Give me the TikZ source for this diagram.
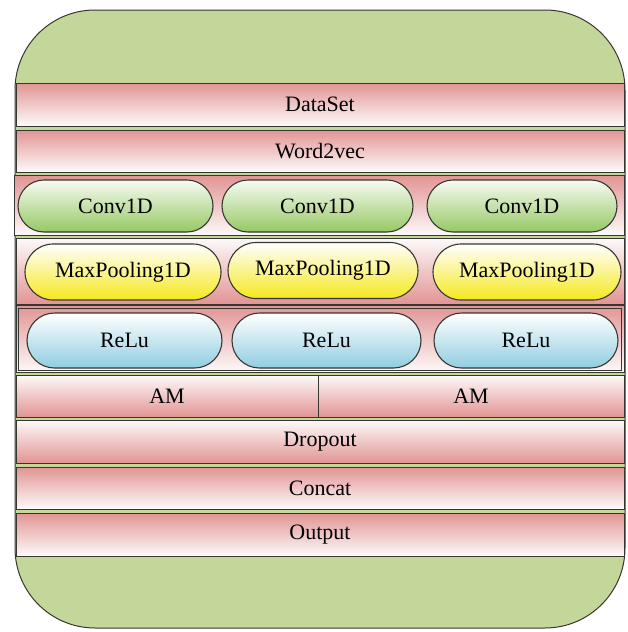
\documentclass[tikz,border=0pt]{standalone}
\usepackage{fontspec}
\setmainfont{Liberation Serif}
\usetikzlibrary{shapes.misc}
\definecolor{bggreen}{RGB}{196,215,155}
\definecolor{barpink}{RGB}{226,148,148}
\definecolor{barwhite}{RGB}{253,250,250}
\definecolor{pillgreen}{RGB}{150,200,100}
\definecolor{pillyellow}{RGB}{245,232,30}
\definecolor{pillblue}{RGB}{145,205,225}
\definecolor{edgec}{RGB}{55,55,50}
\tikzset{
  bar/.style={rectangle, draw=edgec, line width=1pt, inner sep=0pt, font=\fontsize{22}{24}\selectfont},
  pinktop/.style={bar, top color=barpink, middle color=barwhite!85!barpink, bottom color=barwhite},
  pinkbot/.style={bar, top color=barwhite, middle color=barwhite!85!barpink, bottom color=barpink},
  pill/.style={rounded rectangle, draw=edgec, line width=1.1pt, inner sep=0pt, font=\fontsize{22}{24}\selectfont},
  convpill/.style={pill, top color=white!92!pillgreen, middle color=white!65!pillgreen, bottom color=pillgreen},
  poolpill/.style={pill, top color=white, middle color=white!55!pillyellow, bottom color=pillyellow},
  relupill/.style={pill, top color=white, middle color=white!60!pillblue, bottom color=pillblue},
}
\begin{document}
\begin{tikzpicture}[x=1pt,y=-1pt]
\useasboundingbox (0,0) rectangle (628,632);
\draw[fill=bggreen, draw=edgec, line width=1pt, rounded corners=80pt] (15,10) rectangle (625,628);
% bars
\node[pinktop, minimum width=608pt, minimum height=43pt] (data) at (320,104.5) {DataSet};
\node[pinktop, minimum width=608pt, minimum height=42pt] (w2v) at (320,151) {Word2vec};
\node[pinktop, minimum width=610pt, minimum height=60pt] (convrow) at (319,205.5) {};
\node[pinkbot, minimum width=608pt, minimum height=66pt] (poolrow) at (320,271) {};
\node[pinktop, minimum width=608pt, minimum height=67pt] (relurow) at (320,339) {};
\draw[draw=edgec, line width=0.8pt] ([shift={(3pt,-3pt)}]relurow.north west) rectangle ([shift={(-3pt,3pt)}]relurow.south east);
\node[pinkbot, minimum width=302pt, minimum height=42pt] (am1) at (167,396) {AM};
\node[pinkbot, minimum width=306pt, minimum height=42pt] (am2) at (471,396) {AM};
\node[pinkbot, minimum width=608pt, minimum height=43pt] (drop) at (320,441.5) {Dropout};
\node[pinktop, minimum width=608pt, minimum height=42pt] (concat) at (320,488) {Concat};
\node[pinktop, minimum width=608pt, minimum height=43pt] (out) at (320,534.5) {Output};
% pills
\node[convpill, minimum width=195pt, minimum height=52pt] (c1) at (115.5,206) {Conv1D};
\node[convpill, minimum width=191pt, minimum height=52pt] (c2) at (317.5,206) {Conv1D};
\node[convpill, minimum width=190pt, minimum height=52pt] (c3) at (522,206) {Conv1D};
\node[poolpill, minimum width=196pt, minimum height=56pt] (p1) at (123,272) {MaxPooling1D};
\node[poolpill, minimum width=190pt, minimum height=56pt] (p2) at (323,270.5) {MaxPooling1D};
\node[poolpill, minimum width=188pt, minimum height=56pt] (p3) at (527,272) {MaxPooling1D};
\node[relupill, minimum width=195pt, minimum height=55pt] (r1) at (124.5,340.5) {ReLu};
\node[relupill, minimum width=189pt, minimum height=55pt] (r2) at (326.5,340.5) {ReLu};
\node[relupill, minimum width=184pt, minimum height=55pt] (r3) at (526,340.5) {ReLu};
\end{tikzpicture}
\end{document}
